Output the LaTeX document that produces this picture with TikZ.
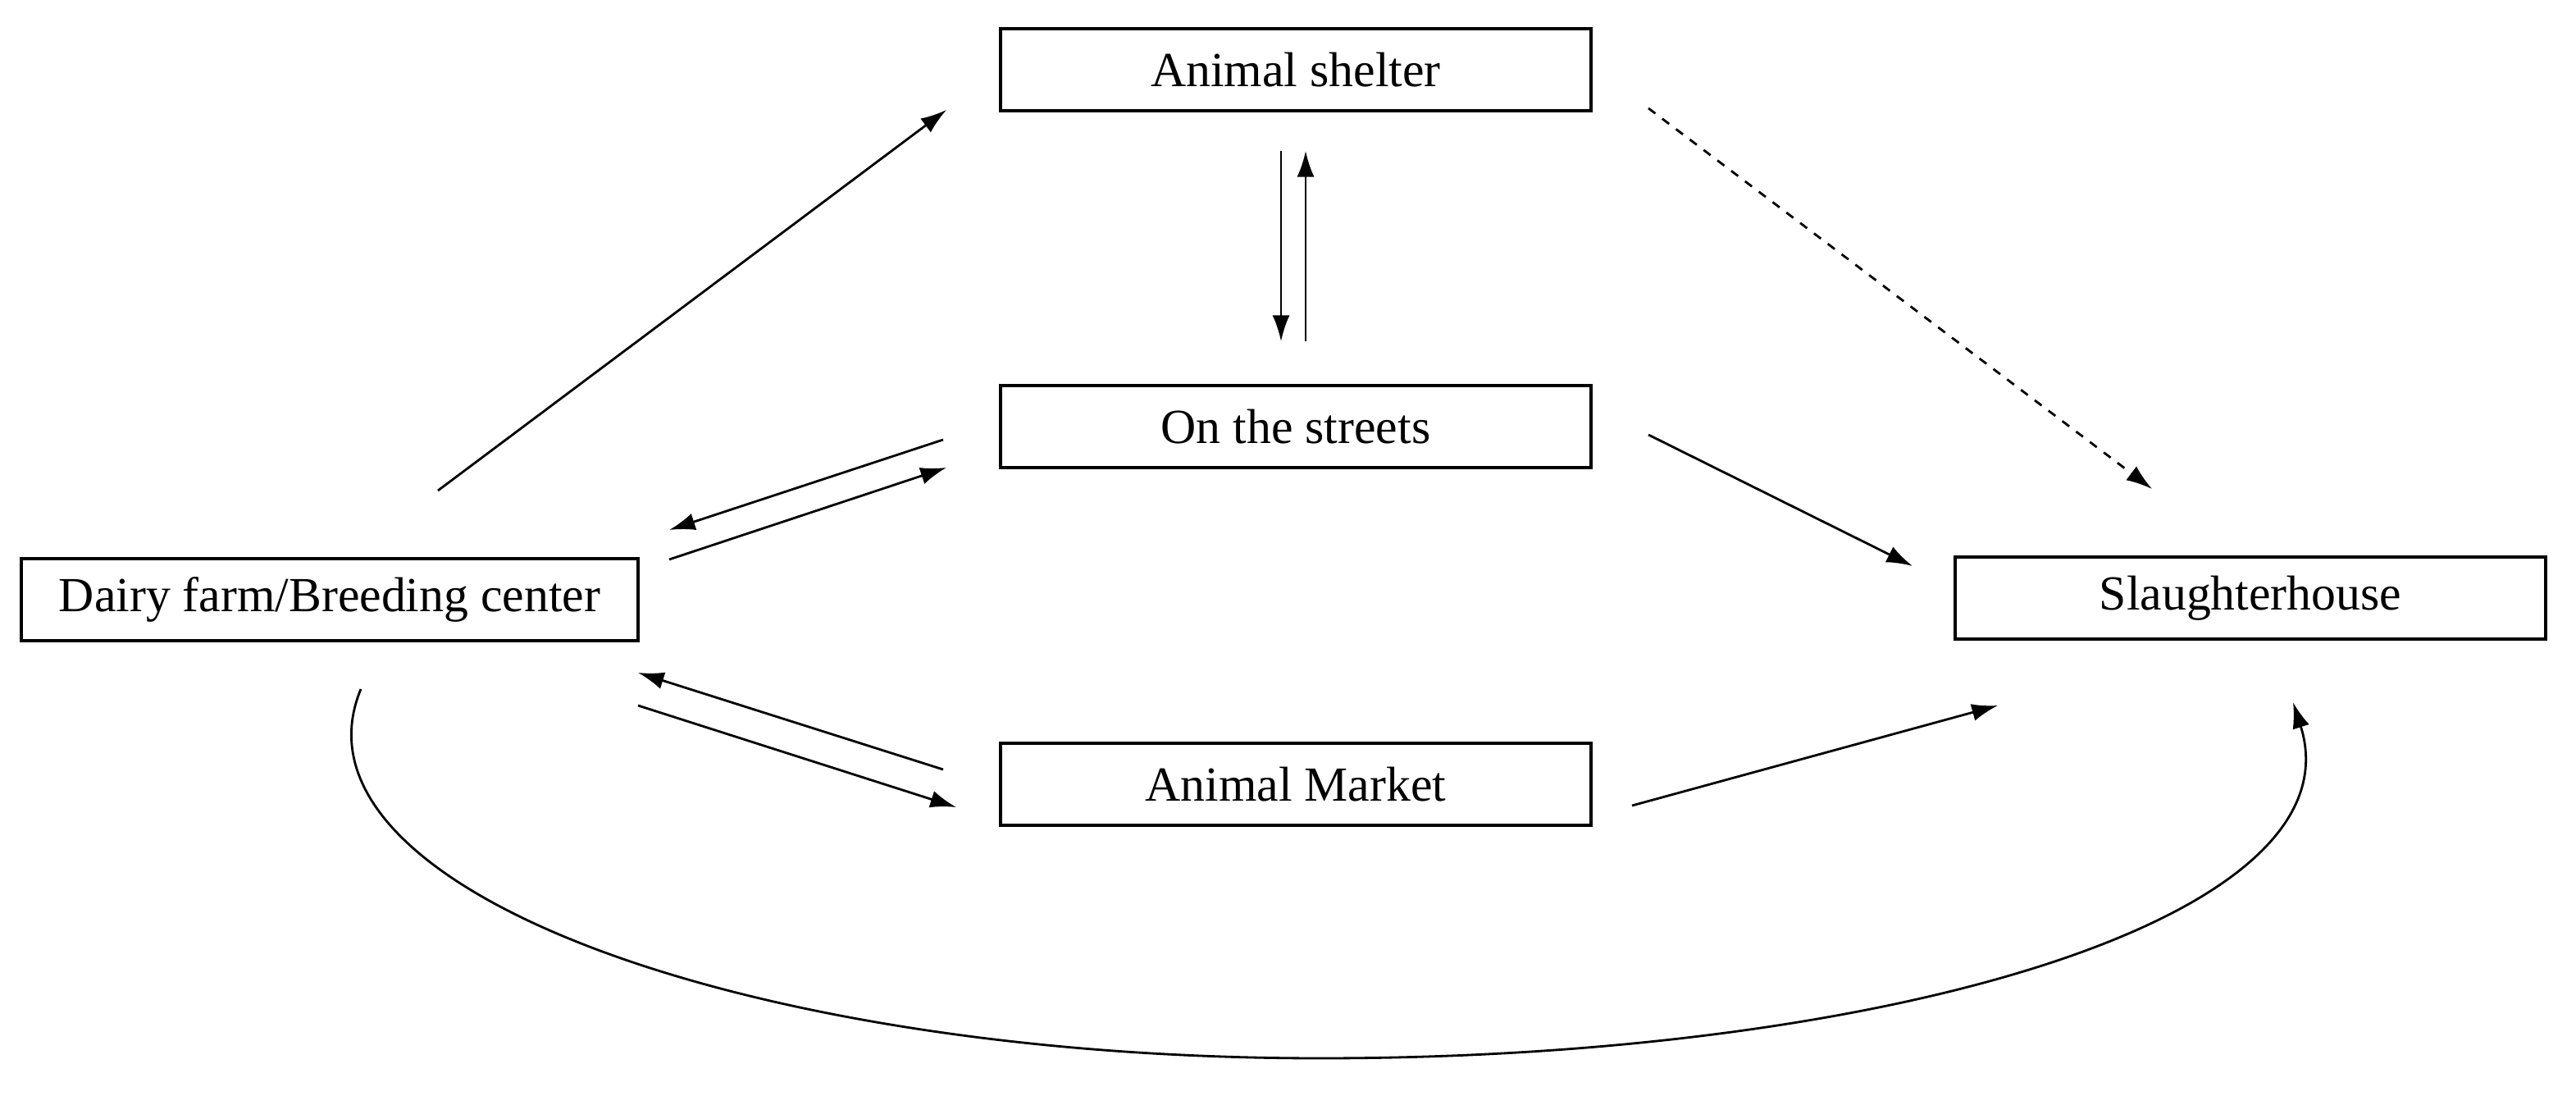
\documentclass[tikz,border=0pt]{standalone}
\usepackage{fontspec}
\setmainfont{Liberation Serif}
\usetikzlibrary{arrows.meta}
\begin{document}
\begin{tikzpicture}[x=0.02cm,y=-0.02cm,
  box/.style={draw,line width=1.3pt,minimum width=7.2cm,minimum height=1.0cm,inner sep=0pt,font=\fontsize{17}{20}\selectfont},
  con/.style={line width=0.8pt,-{Latex[length=9pt,width=6pt]}}]
\useasboundingbox (0,0) rectangle (1570.5,668);
\node[box] (shelter) at (790,42.5) {Animal shelter};
\node[box] (streets) at (790,260) {On the streets};
\node[box,minimum width=7.52cm] (dairy) at (201,365.5) {Dairy farm/Breeding center};
\node[box] (slaughter) at (1372,364.5) {Slaughterhouse};
\node[box] (market) at (790,478) {Animal Market};
\coordinate (a1) at (267,299); \coordinate (a2) at (577,67);
\coordinate (b1) at (781,92); \coordinate (b2) at (781,208);
\coordinate (c1) at (796,208); \coordinate (c2) at (796,92);
\coordinate (d1) at (1005,66); \coordinate (d2) at (1312,298);
\coordinate (e1) at (575,268); \coordinate (e2) at (408,323);
\coordinate (f1) at (408,341); \coordinate (f2) at (577,285);
\coordinate (g1) at (1005,265); \coordinate (g2) at (1166,345);
\coordinate (h1) at (575,469); \coordinate (h2) at (389,410);
\coordinate (i1) at (389,430); \coordinate (i2) at (583,492);
\coordinate (j1) at (995,491); \coordinate (j2) at (1218,430);
\coordinate (k1) at (220,420); \coordinate (km) at (805,645); \coordinate (k2) at (1398,428);
\draw[con] (a1) -- (a2);
\draw[con] (b1) -- (b2);
\draw[con] (c1) -- (c2);
\draw[con,dashed] (d1) -- (d2);
\draw[con] (e1) -- (e2);
\draw[con] (f1) -- (f2);
\draw[con] (g1) -- (g2);
\draw[con] (h1) -- (h2);
\draw[con] (i1) -- (i2);
\draw[con] (j1) -- (j2);
\draw[con] (k1) .. controls (170,540) and (450,645) .. (km) .. controls (1150,645) and (1440,560) .. (k2);
\end{tikzpicture}
\end{document}
